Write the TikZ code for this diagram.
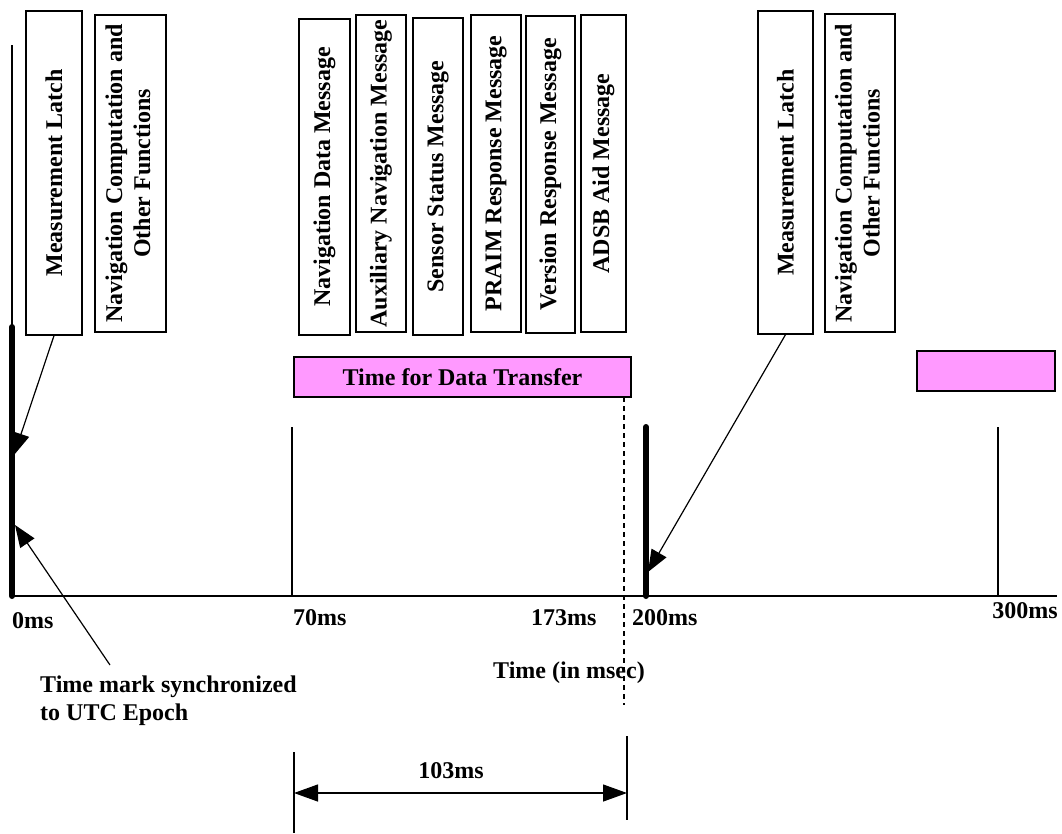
\documentclass[tikz,border=0pt]{standalone}
\usepackage{fontspec}
\setmainfont{Liberation Serif}
\usetikzlibrary{arrows.meta}
\definecolor{pinkfill}{RGB}{255,153,255}
\begin{document}
\begin{tikzpicture}[x=1pt,y=-1pt,
  font=\fontsize{24}{28}\selectfont\bfseries,
  every node/.style={inner sep=0pt},
  vbox/.style={draw, line width=1.3pt, fill=white, align=center},
  pbox/.style={draw, line width=1.3pt, fill=pinkfill, align=center},
  thin/.style={line width=1.3pt},
  thick/.style={line width=6pt, line cap=round},
  arr/.style={line width=1.2pt, -{Triangle[length=22pt,width=17pt]}},
  dimarr/.style={line width=1.3pt, {Triangle[length=24pt,width=17pt]}-{Triangle[length=24pt,width=17pt]}},
  lbl/.style={anchor=west}
]
\useasboundingbox (0,0) rectangle (1062,833);

% message boxes
\node[vbox, minimum width=56pt, minimum height=324pt] (ml1) at (54,173) {\rotatebox{90}{Measurement Latch}};
\node[vbox, minimum width=71pt, minimum height=317pt] (nc1) at (130.5,173.5) {\rotatebox{90}{\begin{tabular}{@{}c@{}}Navigation Computation and\\Other Functions\end{tabular}}};
\node[vbox, minimum width=51pt, minimum height=316pt] (nd) at (324.5,177) {\rotatebox{90}{Navigation Data Message}};
\node[vbox, minimum width=50pt, minimum height=317pt] (aux) at (381,173.5) {\rotatebox{90}{Auxiliary Navigation Message}};
\node[vbox, minimum width=50pt, minimum height=317pt] (ss) at (438,176.5) {\rotatebox{90}{Sensor Status Message}};
\node[vbox, minimum width=50pt, minimum height=317pt] (pr) at (496,173.5) {\rotatebox{90}{PRAIM Response Message}};
\node[vbox, minimum width=49pt, minimum height=317pt] (vr) at (550.5,174.5) {\rotatebox{90}{Version Response Message}};
\node[vbox, minimum width=45pt, minimum height=317pt] (ad) at (603.5,173.5) {\rotatebox{90}{ADSB Aid Message}};
\node[vbox, minimum width=55pt, minimum height=323pt] (ml2) at (785.5,172.5) {\rotatebox{90}{Measurement Latch}};
\node[vbox, minimum width=70pt, minimum height=318pt] (nc2) at (860,173) {\rotatebox{90}{\begin{tabular}{@{}c@{}}Navigation Computation and\\Other Functions\end{tabular}}};

% pink boxes
\node[pbox, minimum width=337pt, minimum height=40pt] (tdt) at (462.5,377) {Time for Data Transfer};
\node[pbox, minimum width=138pt, minimum height=40pt] (p2) at (986,371) {};

% time axis
\coordinate (ax0) at (12,596);
\coordinate (axend) at (1057,596);
\draw[thin] (ax0) -- (axend);

% 0 ms marker
\coordinate (m0top) at (12,45);
\coordinate (m0mid) at (12,327);
\draw[thin] (m0top) -- (m0mid);
\draw[thick] (m0mid) -- (ax0);

% 70 ms, 300 ms markers
\coordinate (m70top) at (292,427);
\coordinate (m70) at (292,596);
\draw[thin] (m70top) -- (m70);
\coordinate (m300top) at (998,427);
\coordinate (m300) at (998,596);
\draw[thin] (m300top) -- (m300);

% 200 ms marker
\coordinate (m200top) at (646,427);
\coordinate (m200) at (646,596);
\draw[thick] (m200top) -- (m200);

% dashed 173 ms line
\coordinate (dashend) at (624,705);
\draw[line width=1.3pt, dash pattern=on 5pt off 4pt] (624,397) -- (dashend);

% arrows from latch boxes
\coordinate (t1) at (14,455);
\draw[arr] (ml1.south) -- (t1);
\coordinate (t2) at (648,572);
\draw[arr] (ml2.south) -- (t2);

% labels
\node[lbl] (l0) at (12,621) {0ms};
\node[lbl] (l70) at (293,618) {70ms};
\node[lbl] (l173) at (531,618) {173ms};
\node[lbl] (l200) at (632,618) {200ms};
\node (l300) at (1025,611) {300ms};
\node (tim) at (569,673) {Time (in msec)};

\node[anchor=west, align=left] (tm) at (40,701) {Time mark synchronized\\to UTC Epoch};
\coordinate (tmstart) at (110,665);
\coordinate (t3) at (15,525);
\draw[arr] (tmstart) -- (t3);

% 103 ms dimension
\coordinate (dl1) at (294,752);
\coordinate (dl2) at (294,833);
\coordinate (dr1) at (627,736);
\coordinate (dr2) at (627,820);
\draw[thin] (dl1) -- (dl2);
\draw[thin] (dr1) -- (dr2);
\coordinate (da) at (294,793);
\coordinate (db) at (627,793);
\draw[dimarr] (da) -- (db);
\node (d103) at (451,771) {103ms};
\end{tikzpicture}
\end{document}
